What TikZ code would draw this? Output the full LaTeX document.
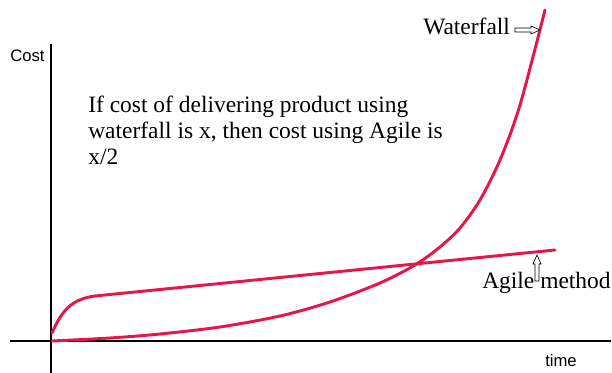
\documentclass[tikz,border=0pt]{standalone}
\usepackage{fontspec}
\setmainfont{Liberation Serif}
\newfontfamily\labsans{Liberation Sans}
\definecolor{curvered}{RGB}{232,22,72}
\begin{document}
\begin{tikzpicture}[x=0.75pt,y=-0.75pt,
  axis/.style={line width=2.2pt,black},
  curve/.style={line width=2.2pt,curvered,line cap=round,line join=round},
  serifl/.style={font=\fontsize{17.6}{19.5}\selectfont,inner sep=0pt,anchor=base west},
  sansl/.style={font=\labsans\fontsize{12.5}{15}\selectfont,inner sep=0pt,anchor=base west},
  hollow/.style={draw=black,fill=white,line width=0.5pt,line join=miter}]
\useasboundingbox (0,0) rectangle (612,373);
\fill[white] (0,0) rectangle (612,373);
% axes
\coordinate (ytop) at (51,44);
\coordinate (ybot) at (51,373);
\coordinate (xleft) at (10,341);
\coordinate (xright) at (611,341);
\draw[axis] (ytop) -- (ybot);
\draw[axis] (xleft) -- (xright);
% curves
\draw[curve] (52,333) .. controls (62,310) and (72,299) .. (95,296) -- (555,250);
\draw[curve] plot[smooth,tension=0.5] coordinates {(52,341) (110,338) (160,334) (220,327) (280,316) (330,302) (380,283) (415,265) (440,247) (460,228) (480,200) (500,160) (520,105) (545,10)};
% labels
\node[sansl] (cost) at (10,62) {Cost};
\node[sansl] (time) at (545,367) {time};
\node[serifl,align=left,anchor=north west] (note) at (88,96) {If cost of delivering product using\\waterfall is x, then cost using Agile is\\x/2};
\node[serifl] (wf) at (423,35) {Waterfall};
\node[serifl] (ag) at (482,289) {Agile method};
% hollow arrows
\draw[hollow] (515,28) -- (531,28) -- (531,26) -- (540,30) -- (531,34) -- (531,32) -- (515,32) -- cycle;
\draw[hollow] (535,281) -- (535,264) -- (533,264) -- (537,255) -- (541,264) -- (539,264) -- (539,281) -- cycle;
\end{tikzpicture}
\end{document}
